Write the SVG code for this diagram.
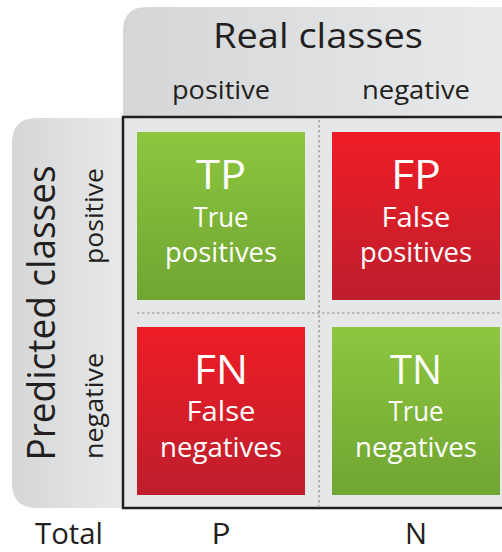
<svg xmlns="http://www.w3.org/2000/svg" width="502" height="552" viewBox="0 0 502 552">
<style>
text{font-family:"Open Sans","DejaVu Sans",sans-serif;fill:#231f20}
.w{fill:#ffffff}
.big{font-size:40px}
.mid{font-size:27px}
.lab{font-size:25px}
.tot{font-size:29px}
.dot{stroke:#8a8c8e;stroke-width:1.2;stroke-dasharray:2.5 2.5;fill:none}
</style>
<defs>
<linearGradient id="gG" x1="0" y1="0" x2="0" y2="1"><stop offset="0" stop-color="#8dc63f"/><stop offset="1" stop-color="#70a532"/></linearGradient>
<linearGradient id="gR" x1="0" y1="0" x2="0" y2="1"><stop offset="0" stop-color="#ee1d25"/><stop offset="1" stop-color="#be1e2d"/></linearGradient>
<linearGradient id="gH" x1="0" y1="0" x2="1" y2="0"><stop offset="0" stop-color="#d5d6d8"/><stop offset="1" stop-color="#e8e9ea"/></linearGradient>
</defs>
<g id="header">
<path d="M123 117 V31 Q123 7 147 7 H502 V117 Z" fill="url(#gH)"/>
<text x="318" y="48" text-anchor="middle" style="font-size:34px" textLength="210" lengthAdjust="spacingAndGlyphs">Real classes</text>
<text x="221" y="99" text-anchor="middle" class="lab" textLength="98" lengthAdjust="spacingAndGlyphs">positive</text>
<text x="416" y="99" text-anchor="middle" class="lab" textLength="108" lengthAdjust="spacingAndGlyphs">negative</text>
</g>
<g id="side">
<path d="M125 118 H37 Q12 118 12 143 V483 Q12 508 37 508 H125 Z" fill="url(#gH)"/>
<text transform="translate(55 313) rotate(-90)" text-anchor="middle" style="font-size:38px" textLength="295" lengthAdjust="spacingAndGlyphs">Predicted classes</text>
<text transform="translate(103 216) rotate(-90)" text-anchor="middle" class="lab" textLength="96" lengthAdjust="spacingAndGlyphs">positive</text>
<text transform="translate(103 406) rotate(-90)" text-anchor="middle" class="lab" textLength="106" lengthAdjust="spacingAndGlyphs">negative</text>
</g>
<g id="matrix">
<rect x="123" y="117" width="383" height="391" fill="#e6e7e8" stroke="#231f20" stroke-width="2.5"/>
</g>
<g id="connectors">
<line class="dot" x1="319" y1="120" x2="319" y2="506"/>
<line class="dot" x1="137" y1="313" x2="502" y2="313"/>
</g>
<g id="TP">
<rect x="137" y="132" width="168" height="168" fill="url(#gG)"/>
<text x="221" y="189" text-anchor="middle" class="w big" textLength="50" lengthAdjust="spacingAndGlyphs">TP</text>
<text x="221" y="227" text-anchor="middle" class="w mid" textLength="55" lengthAdjust="spacingAndGlyphs">True</text>
<text x="221" y="262" text-anchor="middle" class="w mid" textLength="112" lengthAdjust="spacingAndGlyphs">positives</text>
</g>
<g id="FP">
<rect x="332" y="132" width="168" height="168" fill="url(#gR)"/>
<text x="416" y="189" text-anchor="middle" class="w big" textLength="50" lengthAdjust="spacingAndGlyphs">FP</text>
<text x="416" y="227" text-anchor="middle" class="w mid" textLength="69" lengthAdjust="spacingAndGlyphs">False</text>
<text x="416" y="262" text-anchor="middle" class="w mid" textLength="112" lengthAdjust="spacingAndGlyphs">positives</text>
</g>
<g id="FN">
<rect x="137" y="327" width="168" height="168" fill="url(#gR)"/>
<text x="221" y="384" text-anchor="middle" class="w big" textLength="54" lengthAdjust="spacingAndGlyphs">FN</text>
<text x="221" y="421" text-anchor="middle" class="w mid" textLength="69" lengthAdjust="spacingAndGlyphs">False</text>
<text x="221" y="457" text-anchor="middle" class="w mid" textLength="122" lengthAdjust="spacingAndGlyphs">negatives</text>
</g>
<g id="TN">
<rect x="332" y="327" width="168" height="168" fill="url(#gG)"/>
<text x="416" y="384" text-anchor="middle" class="w big" textLength="52" lengthAdjust="spacingAndGlyphs">TN</text>
<text x="416" y="421" text-anchor="middle" class="w mid" textLength="55" lengthAdjust="spacingAndGlyphs">True</text>
<text x="416" y="457" text-anchor="middle" class="w mid" textLength="122" lengthAdjust="spacingAndGlyphs">negatives</text>
</g>
<g id="totals">
<text x="69" y="544" text-anchor="middle" class="tot" textLength="68" lengthAdjust="spacingAndGlyphs">Total</text>
<text x="221" y="544" text-anchor="middle" class="tot" textLength="19" lengthAdjust="spacingAndGlyphs">P</text>
<text x="416" y="544" text-anchor="middle" class="tot" textLength="22" lengthAdjust="spacingAndGlyphs">N</text>
</g>
</svg>
